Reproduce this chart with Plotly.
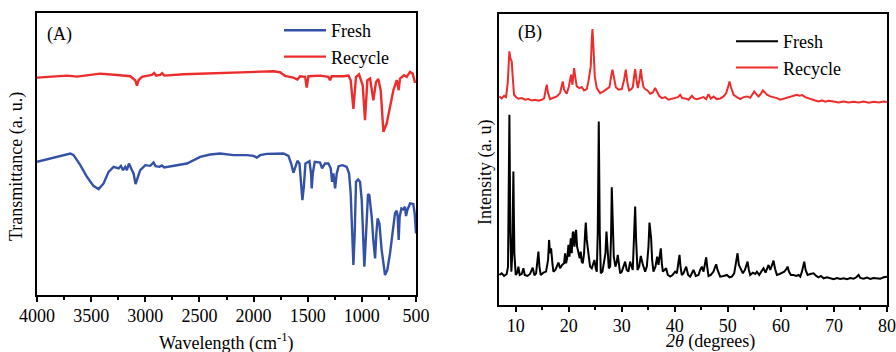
import plotly.graph_objects as go

# ---------------- (A) FTIR data: (wavenumber cm^-1, transmittance a.u.) ----------------
ftir_recycle = [
    (4000, 653), (3877, 655), (3723, 659), (3631, 656), (3569, 659), (3416, 665), (3262, 661),
    (3139, 657), (3093, 645), (3077, 629), (3062, 645), (3031, 655), (2939, 661), (2917, 667),
    (2899, 659), (2862, 661), (2844, 666), (2825, 659), (2647, 663), (2339, 666), (2032, 669),
    (1816, 672), (1755, 669), (1709, 658), (1632, 653), (1595, 647), (1570, 657), (1524, 655),
    (1509, 623), (1493, 657), (1386, 659), (1309, 655), (1294, 645), (1278, 657), (1170, 657),
    (1124, 659), (1103, 645), (1078, 559), (1054, 655), (1026, 663), (992, 630), (971, 525),
    (949, 645), (924, 650), (894, 585), (869, 640), (848, 649), (826, 615), (801, 490),
    (771, 515), (740, 565), (709, 615), (678, 645), (660, 615), (648, 650), (611, 660),
    (586, 655), (555, 670), (531, 665), (509, 637),
]

ftir_fresh = [
    (4000, 400), (3877, 410), (3692, 425), (3662, 420), (3600, 390), (3539, 355), (3477, 327),
    (3431, 318), (3385, 335), (3339, 370), (3293, 385), (3246, 380), (3225, 388), (3206, 375),
    (3185, 385), (3170, 375), (3151, 395), (3123, 375), (3108, 365), (3090, 333), (3071, 355),
    (3047, 375), (3000, 390), (2954, 388), (2924, 398), (2905, 387), (2868, 385), (2847, 389),
    (2825, 383), (2739, 388), (2616, 395), (2493, 415), (2401, 422), (2308, 425), (2185, 420),
    (2062, 420), (2001, 418), (1970, 413), (1939, 420), (1878, 424), (1724, 425), (1678, 418),
    (1653, 395), (1632, 367), (1613, 385), (1595, 403), (1576, 395), (1561, 325), (1549, 285),
    (1536, 325), (1521, 395), (1484, 402), (1469, 365), (1463, 320), (1453, 365), (1435, 400),
    (1386, 398), (1367, 380), (1340, 395), (1309, 395), (1287, 380), (1275, 340), (1263, 365),
    (1247, 320), (1232, 365), (1214, 387), (1177, 390), (1140, 385), (1118, 365), (1103, 305),
    (1091, 185), (1078, 90), (1066, 185), (1054, 340), (1035, 347), (1017, 340), (1001, 285),
    (977, 85), (961, 185), (943, 303), (931, 300), (909, 235), (894, 165), (878, 110),
    (866, 185), (854, 230), (838, 215), (817, 135), (786, 60), (765, 75), (740, 125),
    (715, 195), (694, 245), (678, 253), (669, 235), (660, 165), (651, 235), (635, 260),
    (617, 257), (601, 265), (592, 237), (580, 255), (555, 275), (525, 273), (512, 245),
    (500, 185),
]

# ---------------- (B) XRD data: (2theta degrees, intensity a.u.) ----------------
xrd_recycle = [
    (6.92, 625), (7.36, 619), (7.80, 627), (8.18, 623), (8.49, 665), (8.81, 760), (8.99, 740),
    (9.25, 730), (9.43, 685), (9.69, 630), (10.06, 623), (10.50, 618), (11.13, 620), (11.76, 615),
    (12.39, 617), (13.02, 613), (13.65, 615), (14.28, 612), (14.91, 615), (15.35, 619), (15.66, 645),
    (15.85, 660), (16.10, 635), (16.48, 617), (17.11, 621), (17.74, 625), (18.36, 635), (18.68, 653),
    (18.87, 670), (19.12, 645), (19.62, 633), (20.00, 653), (20.25, 680), (20.44, 690), (20.69, 660),
    (21.01, 710), (21.26, 680), (21.51, 655), (22.01, 650), (22.45, 653), (22.89, 643), (23.40, 647),
    (23.71, 670), (23.90, 685), (24.15, 715), (24.34, 795), (24.47, 827), (24.65, 775), (24.91, 685),
    (25.28, 650), (25.91, 635), (26.54, 640), (27.17, 647), (27.67, 653), (28.05, 690), (28.24, 705),
    (28.49, 685), (28.87, 653), (29.37, 645), (30.00, 647), (30.44, 675), (30.75, 705), (31.07, 665),
    (31.38, 643), (31.82, 647), (32.08, 653), (32.33, 685), (32.52, 707), (32.77, 675), (33.02, 650),
    (33.33, 675), (33.58, 707), (33.84, 675), (34.09, 653), (34.40, 647), (34.84, 643), (35.35, 633),
    (35.85, 637), (36.29, 650), (36.60, 640), (37.04, 627), (37.55, 620), (38.18, 623), (38.81, 615),
    (39.43, 618), (40.06, 621), (40.57, 623), (41.01, 630), (41.38, 620), (41.95, 619), (42.58, 615),
    (43.21, 627), (43.65, 619), (44.15, 617), (44.78, 619), (45.41, 623), (45.91, 617), (46.35, 632),
    (46.79, 618), (47.30, 625), (47.92, 617), (48.55, 619), (49.18, 625), (49.69, 635), (50.06, 655),
    (50.31, 670), (50.57, 653), (51.07, 630), (51.70, 623), (52.33, 617), (52.96, 623), (53.58, 625),
    (54.21, 621), (54.59, 630), (54.97, 640), (55.35, 632), (55.79, 625), (56.23, 633), (56.60, 643),
    (56.98, 637), (57.36, 630), (57.99, 625), (58.62, 623), (59.25, 620), (59.87, 615), (60.50, 618),
    (61.13, 619), (61.76, 623), (62.39, 627), (63.02, 630), (63.52, 627), (64.03, 629), (64.59, 623),
    (65.22, 619), (65.85, 615), (66.48, 613), (67.11, 610), (67.74, 613), (68.36, 609), (68.99, 612),
    (69.94, 610), (70.88, 607), (71.82, 610), (72.77, 607), (73.71, 609), (74.65, 607), (75.60, 610),
    (76.54, 606), (77.48, 609), (78.43, 607), (79.37, 610), (80.00, 608),
]

xrd_fresh = [
    (6.92, 90), (7.36, 95), (7.80, 87), (8.30, 93), (8.55, 115), (8.81, 570), (8.99, 215),
    (9.18, 100), (9.37, 155), (9.56, 400), (9.75, 155), (10.00, 90), (10.31, 97), (10.50, 115),
    (10.75, 90), (11.13, 93), (11.45, 110), (11.70, 90), (12.20, 87), (12.70, 93), (13.21, 112),
    (13.52, 89), (13.84, 95), (14.09, 125), (14.28, 160), (14.47, 115), (14.72, 90), (15.22, 97),
    (15.72, 100), (16.10, 135), (16.29, 195), (16.48, 155), (16.67, 170), (16.92, 125), (17.11, 100),
    (17.48, 105), (17.74, 115), (18.05, 127), (18.36, 110), (18.74, 120), (19.12, 125), (19.31, 155),
    (19.50, 125), (19.75, 145), (19.94, 180), (20.13, 145), (20.38, 200), (20.57, 155), (20.75, 215),
    (20.88, 220), (21.07, 175), (21.26, 225), (21.38, 225), (21.57, 175), (21.82, 155), (22.07, 140),
    (22.26, 160), (22.45, 130), (22.64, 125), (22.89, 155), (23.08, 215), (23.21, 247), (23.40, 195),
    (23.58, 170), (23.84, 125), (24.02, 115), (24.34, 110), (24.65, 125), (24.84, 135), (25.09, 110),
    (25.28, 100), (25.47, 215), (25.66, 550), (25.85, 215), (26.04, 95), (26.35, 100), (26.67, 125),
    (26.92, 155), (27.11, 220), (27.29, 155), (27.55, 110), (27.80, 115), (27.99, 215), (28.11, 353),
    (28.30, 215), (28.49, 145), (28.80, 115), (29.06, 130), (29.24, 150), (29.43, 125), (29.69, 95),
    (30.00, 100), (30.31, 115), (30.63, 130), (30.94, 105), (31.26, 100), (31.57, 130), (31.82, 115),
    (32.07, 105), (32.33, 215), (32.52, 295), (32.70, 195), (32.96, 105), (33.27, 115), (33.58, 147),
    (33.90, 125), (34.15, 115), (34.40, 100), (34.72, 115), (35.03, 175), (35.22, 247), (35.41, 225),
    (35.53, 200), (35.72, 135), (35.97, 100), (36.35, 115), (36.67, 145), (36.92, 120), (37.17, 145),
    (37.36, 170), (37.55, 125), (37.74, 100), (38.05, 105), (38.36, 110), (38.68, 90), (39.12, 85),
    (39.56, 90), (40.06, 100), (40.38, 95), (40.69, 125), (40.88, 150), (41.07, 115), (41.32, 90),
    (41.63, 95), (42.14, 115), (42.51, 90), (42.89, 85), (43.21, 95), (43.52, 105), (43.96, 87),
    (44.46, 90), (44.78, 105), (45.09, 115), (45.41, 100), (45.72, 125), (45.91, 143), (46.10, 115),
    (46.35, 87), (46.79, 90), (47.29, 100), (47.61, 115), (47.80, 122), (48.05, 105), (48.55, 85),
    (49.18, 87), (49.81, 90), (50.31, 83), (50.75, 85), (51.19, 95), (51.57, 125), (51.82, 155),
    (52.07, 120), (52.45, 105), (52.83, 95), (53.21, 105), (53.52, 120), (53.71, 130), (53.96, 105),
    (54.21, 90), (54.71, 97), (55.16, 93), (55.47, 100), (55.91, 90), (56.41, 103), (56.73, 110),
    (57.10, 97), (57.48, 115), (57.67, 120), (57.99, 105), (58.24, 115), (58.43, 125), (58.61, 133),
    (58.87, 110), (59.24, 90), (59.75, 93), (60.19, 97), (60.63, 100), (61.00, 107), (61.26, 115),
    (61.51, 100), (61.88, 90), (62.39, 90), (62.89, 87), (63.33, 90), (63.65, 85), (63.96, 100),
    (64.21, 115), (64.40, 130), (64.65, 105), (65.03, 90), (65.53, 93), (66.16, 95), (66.66, 87),
    (67.10, 83), (67.54, 87), (68.05, 80), (68.68, 83), (69.31, 80), (69.94, 77), (70.56, 81),
    (71.19, 78), (71.82, 80), (72.45, 77), (73.08, 81), (73.71, 79), (74.21, 83), (74.65, 90),
    (74.96, 81), (75.60, 79), (76.22, 82), (76.85, 78), (77.48, 81), (78.11, 80), (78.74, 79),
    (79.37, 83), (80.00, 85),
]

ftir_ticks = [4000, 3500, 3000, 2500, 2000, 1500, 1000, 500]
xrd_ticks = [10, 20, 30, 40, 50, 60, 70, 80]

FONT = "Liberation Serif"
BLUE = "#3451A8"
RED = "#EE2C2C"
BLACK = "#000000"


def unzip(pairs):
    xs, ys = zip(*pairs)
    return list(xs), list(ys)


fig = go.Figure()

x, y = unzip(ftir_fresh)
fig.add_trace(go.Scatter(x=x, y=y, mode="lines", name="Fresh", line=dict(color=BLUE, width=2.4),
                         xaxis="x", yaxis="y", legend="legend"))
x, y = unzip(ftir_recycle)
fig.add_trace(go.Scatter(x=x, y=y, mode="lines", name="Recycle", line=dict(color=RED, width=2.4),
                         xaxis="x", yaxis="y", legend="legend"))
x, y = unzip(xrd_fresh)
fig.add_trace(go.Scatter(x=x, y=y, mode="lines", name="Fresh", line=dict(color=BLACK, width=2),
                         xaxis="x2", yaxis="y2", legend="legend2"))
x, y = unzip(xrd_recycle)
fig.add_trace(go.Scatter(x=x, y=y, mode="lines", name="Recycle", line=dict(color=RED, width=2),
                         xaxis="x2", yaxis="y2", legend="legend2"))

W, H = 896, 352
axis_common = dict(showline=True, linecolor="black", linewidth=2, mirror=True,
                   showgrid=False, zeroline=False, automargin=False)
tickfont = dict(family=FONT, size=18, color="black")

fig.update_layout(
    width=W, height=H, margin=dict(l=0, r=0, t=0, b=0, autoexpand=False),
    paper_bgcolor="white", plot_bgcolor="white",
    font=dict(family=FONT, size=17, color="black"),
    xaxis=dict(domain=[37 / W, 416 / W], range=[4000, 500], tickvals=ftir_ticks,
               ticks="outside", ticklen=5, tickwidth=1.5, tickcolor="black", tickfont=tickfont,
               ticklabelstandoff=-2,
               minor=dict(dtick=250, tick0=500, ticks="outside", ticklen=3, tickwidth=1.5, tickcolor="black"),
               anchor="y", **axis_common),
    yaxis=dict(domain=[1 - 295 / H, 1 - 13 / H], range=[0, 847], showticklabels=False, ticks="",
               anchor="x", **axis_common),
    xaxis2=dict(domain=[499 / W, 887 / W], range=[6.85, 80], tickvals=xrd_ticks,
                ticks="outside", ticklen=5, tickwidth=1.5, tickcolor="black", tickfont=tickfont,
                ticklabelstandoff=-2,
                minor=dict(dtick=5, tick0=0, ticks="outside", ticklen=3, tickwidth=1.5, tickcolor="black"),
                anchor="y2", **axis_common),
    yaxis2=dict(domain=[1 - 305 / H, 1 - 14 / H], range=[0, 872], showticklabels=False, ticks="",
                anchor="x2", **axis_common),
    legend=dict(x=279 / W, y=1 - 12 / H, xanchor="left", yanchor="top", bgcolor="rgba(0,0,0,0)",
                font=dict(family=FONT, size=18), itemwidth=42, tracegroupgap=0),
    legend2=dict(x=731 / W, y=1 - 23 / H, xanchor="left", yanchor="top", bgcolor="rgba(0,0,0,0)",
                 font=dict(family=FONT, size=18), itemwidth=42, tracegroupgap=0),
    showlegend=True,
)

annots = [
    dict(text="(A)", x=46 / W, y=1 - 35 / H, xanchor="left", yanchor="middle", size=18),
    dict(text="(B)", x=517 / W, y=1 - 32 / H, xanchor="left", yanchor="middle", size=18),
    dict(text="Wavelength (cm<sup>-1</sup>)", x=226.5 / W, y=1 - 341.5 / H, xanchor="center", yanchor="middle", size=18),
    dict(text="<i>2θ</i> (degrees)", x=710 / W, y=1 - 341.5 / H, xanchor="center", yanchor="middle", size=18),
    dict(text="Transmittance (a. u.)", x=17 / W, y=1 - 167 / H, xanchor="center", yanchor="middle", textangle=-90, size=18),
    dict(text="Intensity (a. u)", x=485 / W, y=1 - 173 / H, xanchor="center", yanchor="middle", textangle=-90, size=18),
]
for a in annots:
    size = a.pop("size")
    fig.add_annotation(xref="paper", yref="paper", showarrow=False, borderpad=0,
                       font=dict(family=FONT, size=size, color="black"), **a)

fig.write_html("out.html")
